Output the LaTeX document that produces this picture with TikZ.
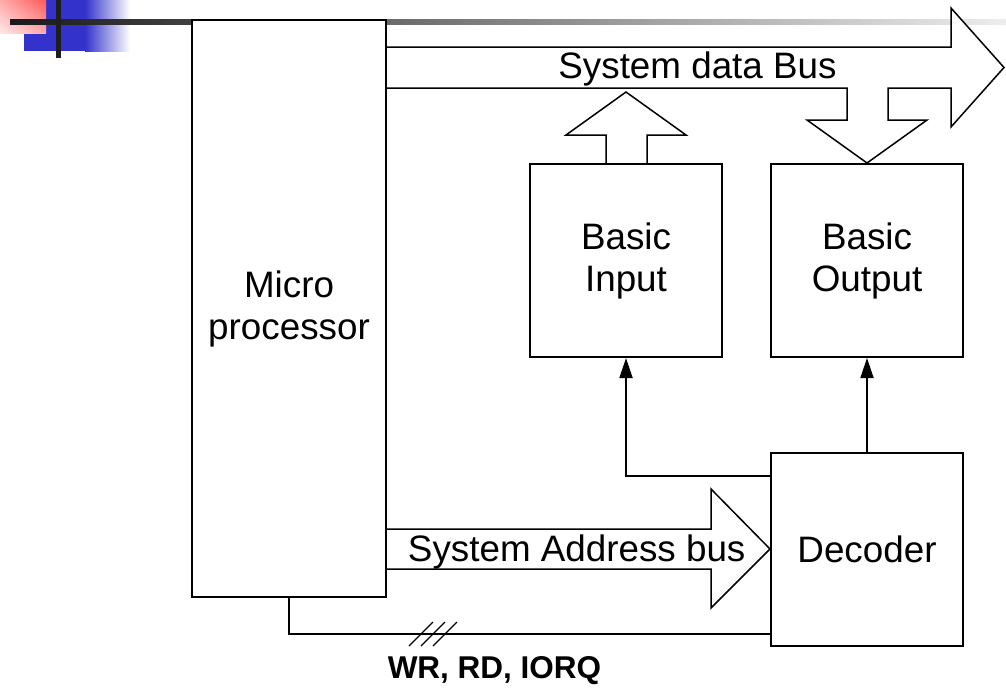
\documentclass[tikz,border=0pt]{standalone}
\usepackage{fontspec}
\setmainfont{Liberation Sans}
\usetikzlibrary{arrows.meta,shadings}
\definecolor{logoblue}{RGB}{51,51,204}
\definecolor{logored}{RGB}{255,90,90}
\definecolor{logopale}{RGB}{255,232,232}
\definecolor{logomid}{RGB}{255,170,170}
\definecolor{bardark}{RGB}{30,30,30}
\begin{document}
\begin{tikzpicture}[x=1pt,y=-1pt,
  box/.style={draw, line width=2pt, fill=white, inner sep=0pt, align=center,
    font=\fontsize{36.8}{42}\selectfont},
  bus/.style={draw, line width=1.5pt, fill=white, line join=miter},
  lbl/.style={font=\fontsize{36.8}{42}\selectfont, anchor=base, inner sep=0pt},
  sig/.style={line width=1.8pt, -{Triangle[length=20pt,width=13pt]}},
  ctlline/.style={line width=1.8pt},
  slash/.style={line width=1.3pt}
]
\useasboundingbox (0,0) rectangle (1006,689);
% slide logo
\fill[logoblue] (24,0) rectangle (85,51);
\shade[left color=logoblue, right color=white] (85,0) rectangle (130,51);
\shade[upper left=logomid, upper right=logored, lower left=logopale, lower right=logomid] (0,0) rectangle (46,33);
\shade[left color=black!90, right color=black!7] (10,19) rectangle (1006,24);
\fill[bardark] (56,0) rectangle (61,58);

% buses
\draw[bus] (386,47) -- (951,47) -- (951,8) -- (1004,67.5) -- (951,127) -- (951,88)
  -- (888,88) -- (888,120) -- (927,120) -- (867,163) -- (807,120) -- (847,120)
  -- (847,88) -- (386,88);
\draw[bus] (606,164) -- (606,135) -- (566,135) -- (626,92) -- (686,135) -- (647,135) -- (647,164);
\draw[bus] (386,529) -- (711,529) -- (711,489) -- (770,549) -- (711,608) -- (711,569) -- (386,569);
\node[lbl] (databus) at (697.5,78) {System data Bus};
\node[lbl] (addrbus) at (576.7,561.5) {System Address bus};

% blocks
\node[box, minimum width=194pt, minimum height=577pt] (mp) at (289,308.5) {Micro\\processor};
\node[box, minimum width=192pt, minimum height=193pt] (in) at (626,260.5) {Basic\\Input};
\node[box, minimum width=192pt, minimum height=193pt] (out) at (867,260.5) {Basic\\Output};
\node[box, minimum width=192pt, minimum height=193pt] (dec) at (867,549.5) {Decoder};

% decoder outputs
\draw[sig] (dec.north) -- (out.south);
\draw[sig] ([yshift=-24pt]dec.north west) -| (in.south);

% control lines
\draw[ctlline] (mp.south) |- ([yshift=13pt]dec.south west);
\draw[slash] (409,646) -- (433,622);
\draw[slash] (421,646) -- (445,622);
\draw[slash] (433,646) -- (457,622);
\node[font=\fontsize{31.5}{36}\bfseries\selectfont, anchor=base, inner sep=0pt] (ctl) at (494.5,678) {WR, RD, IORQ};
\end{tikzpicture}
\end{document}
